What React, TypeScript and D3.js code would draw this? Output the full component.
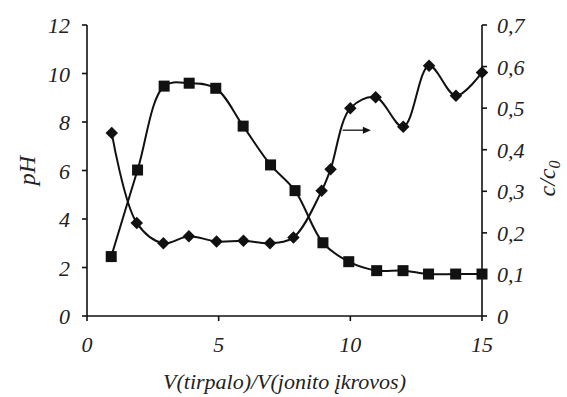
import * as d3 from 'd3'

// pH (squares, left axis)
const phX = [0.92, 1.92, 2.93, 3.88, 4.89, 5.93, 6.97, 7.9, 8.96, 9.94, 11, 12, 12.97, 14, 15]
const phValues = [2.45, 6.02, 9.48, 9.6, 9.39, 7.83, 6.23, 5.17, 3.02, 2.24, 1.87, 1.87, 1.73, 1.73, 1.73]

// c/c0 (diamonds, right axis)
const concX = [0.94, 1.89, 2.9, 3.87, 4.92, 5.94, 6.95, 7.84, 8.91, 9.25, 10, 10.96, 12.01, 12.99, 14.01, 15]
const concValues = [0.44, 0.224, 0.175, 0.192, 0.179, 0.181, 0.175, 0.189, 0.301, 0.353, 0.5, 0.526, 0.455, 0.602, 0.53, 0.586]

const xTicks = [0, 5, 10, 15]
const phTicks = [0, 2, 4, 6, 8, 10, 12]
const concTicks = [0, 0.1, 0.2, 0.3, 0.4, 0.5, 0.6, 0.7]

// arrow pointing to the right axis (data coords)
const arrowFrom = { x: 9.71, y: 0.447 }
const arrowTo = { x: 10.78, y: 0.447 }

const ink = '#111'
const textInk = '#222'

const W = 567
const H = 397
const left = 87
const right = 482
const top = 25
const bottom = 316

const x = d3.scaleLinear().domain([0, 15]).range([left, right])
const yL = d3.scaleLinear().domain([0, 12]).range([bottom, top])
const yR = d3.scaleLinear().domain([0, 0.7]).range([bottom, top])

const fmtConc = (d: number) => (d === 0 ? '0' : d3.format('.1f')(d).replace('.', ','))

const phLine = d3
  .line<number>()
  .x((_, i) => x(phX[i]))
  .y((d) => yL(d))
  .curve(d3.curveCatmullRom.alpha(0.5))

const concLine = d3
  .line<number>()
  .x((_, i) => x(concX[i]))
  .y((d) => yR(d))
  .curve(d3.curveCatmullRom.alpha(0.5))

const diamond = d3.symbol().type(d3.symbolSquare).size(78)()

// serif italic text
function Label(props: any) {
  const { size = 22, children, ...rest } = props
  return (
    <text fontFamily="'Times New Roman'" fontStyle="italic" fontSize={size} fill={textInk} {...rest}>
      {children}
    </text>
  )
}

export default function App() {
  const ay = yR(arrowFrom.y)
  const ax1 = x(arrowFrom.x)
  const ax2 = x(arrowTo.x)

  return (
    <svg width={W} height={H} style={{ position: 'absolute', left: 0, top: 0 }}>
      {/* axes */}
      <g stroke={ink} strokeWidth={1.6}>
        <line x1={left} x2={right} y1={bottom} y2={bottom} />
        <line x1={left} x2={left} y1={top} y2={bottom} />
        <line x1={right} x2={right} y1={top} y2={bottom} />
        {xTicks.map((t) => (
          <line key={'xt' + t} x1={x(t)} x2={x(t)} y1={bottom} y2={bottom + 5} />
        ))}
        {phTicks.map((t) => (
          <line key={'lt' + t} x1={left - 5} x2={left} y1={yL(t)} y2={yL(t)} />
        ))}
        {concTicks.map((t) => (
          <line key={'rt' + t} x1={right} x2={right + 5} y1={yR(t)} y2={yR(t)} />
        ))}
      </g>

      {xTicks.map((t) => (
        <Label key={'xl' + t} x={x(t)} y={bottom + 36} textAnchor="middle">
          {String(t)}
        </Label>
      ))}
      {phTicks.map((t) => (
        <Label key={'ll' + t} x={left - 17} y={yL(t) + 8}>
          <tspan textAnchor="end">{String(t)}</tspan>
        </Label>
      ))}
      {concTicks.map((t) => (
        <Label key={'rl' + t} x={right + 15} y={yR(t) + 8}>
          {fmtConc(t)}
        </Label>
      ))}

      {/* series */}
      <path d={phLine(phValues) ?? ''} fill="none" stroke={ink} strokeWidth={2} />
      <path d={concLine(concValues) ?? ''} fill="none" stroke={ink} strokeWidth={2} />

      {phValues.map((v, i) => (
        <rect key={'s' + i} x={x(phX[i]) - 5.5} y={yL(v) - 5.5} width={11} height={11} fill={ink} />
      ))}
      {concValues.map((v, i) => (
        <path
          key={'d' + i}
          d={diamond ?? ''}
          transform={`translate(${x(concX[i])},${yR(v)}) rotate(45)`}
          fill={ink}
        />
      ))}

      {/* arrow to right axis */}
      <line x1={ax1} x2={ax2 - 6} y1={ay} y2={ay} stroke={ink} strokeWidth={1.3} />
      <path d={`M${ax2},${ay} L${ax2 - 8},${ay - 3.5} L${ax2 - 8},${ay + 3.5} Z`} fill={ink} />

      {/* titles */}
      <Label x={(left + right) / 2} y={389} textAnchor="middle" size={22}>
        V(tirpalo)/V(jonito įkrovos)
      </Label>
      <Label transform={`translate(35,${(top + bottom) / 2}) rotate(-90)`} textAnchor="middle" size={24}>
        pH
      </Label>
      <Label transform={`translate(555,${(top + bottom) / 2 + 8}) rotate(-90)`} textAnchor="middle" size={24}>
        c/c
        <tspan fontSize={16} dy={5}>
          0
        </tspan>
      </Label>
    </svg>
  )
}
